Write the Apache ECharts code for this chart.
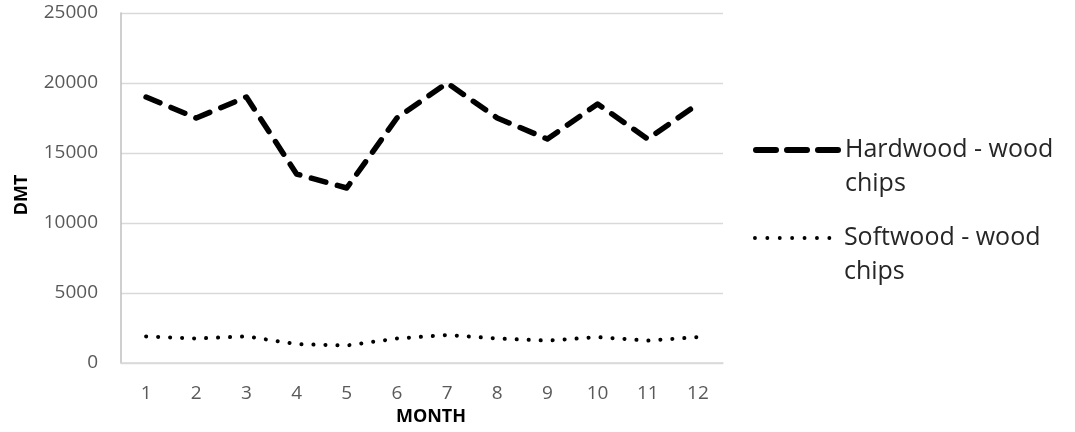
<!DOCTYPE html>
<html><head><meta charset="utf-8">
<script src="https://cdn.jsdelivr.net/npm/echarts@6/dist/echarts.min.js"></script>
<style>html,body{margin:0;padding:0;background:#fff}#c{width:1075px;height:432px}</style>
</head><body><div id="c"></div>
<script>
const months = ['1','2','3','4','5','6','7','8','9','10','11','12'];
const hardwood = [19000, 17500, 19000, 13500, 12500, 17500, 20000, 17500, 16000, 18500, 16000, 18500];
const softwood = [1900, 1750, 1900, 1350, 1250, 1750, 2000, 1750, 1600, 1850, 1600, 1850];
const seriesNames = ['Hardwood - wood chips', 'Softwood - wood chips'];
const legendLabels = [' \nHardwood - wood\nchips', ' \nSoftwood - wood\nchips'];

const FONT = '"Open Sans", Lato, sans-serif';
const legendText = { fontSize: 25, color: '#262626', lineHeight: 34, fontFamily: FONT };
const legendCommon = {
  orient: 'vertical', itemWidth: 84, itemHeight: 14, itemGap: 0, padding: 0,
  formatter: n => legendLabels[seriesNames.indexOf(n)],
  itemStyle: { color: 'rgba(0,0,0,0)', borderWidth: 0, opacity: 0 },
  textStyle: legendText
};
const chart = echarts.init(document.getElementById('c'));
chart.setOption({
  animation: false,
  textStyle: { fontFamily: FONT },
  grid: { left: 121, right: 352, top: 13, bottom: 69, containLabel: false },
  legend: [
    Object.assign({}, legendCommon, { left: 753, top: 99,
      data: [{ name: seriesNames[0], lineStyle: { color: '#000', width: 6, type: [20, 11], cap: 'round' } }] }),
    Object.assign({}, legendCommon, { left: 753, top: 187,
      data: [{ name: seriesNames[1], lineStyle: { color: '#000', width: 3.8, type: [0.1, 12.3], cap: 'round' } }] })
  ],
  xAxis: {
    type: 'category', data: months, boundaryGap: true,
    name: 'MONTH', nameLocation: 'middle', nameGap: 45,
    nameTextStyle: { fontWeight: 'bold', fontSize: 18, color: '#000', fontFamily: FONT, padding: [0, 0, 0, 18] },
    axisLine: { lineStyle: { color: '#d9d9d9', width: 1.5 } },
    axisTick: { show: false },
    axisLabel: { color: '#595959', fontSize: 19, margin: 21, fontFamily: FONT }
  },
  yAxis: {
    type: 'value', min: 0, max: 25000, interval: 5000,
    name: 'DMT', nameLocation: 'middle', nameGap: 90, nameRotate: 90,
    nameTextStyle: { fontWeight: 'bold', fontSize: 18, color: '#000', fontFamily: FONT, padding: [0, 14, 0, 0] },
    axisLine: { show: true, lineStyle: { color: '#bfbfbf', width: 1.5 } },
    axisTick: { show: false },
    splitLine: { lineStyle: { color: '#d9d9d9', width: 1.3 } },
    axisLabel: { color: '#595959', fontSize: 19, margin: 23, fontFamily: FONT, formatter: v => String(v) }
  },
  series: [
    { name: seriesNames[0], type: 'line', data: hardwood, symbol: 'none',
      lineStyle: { color: '#000', width: 5.5, type: [15, 12], cap: 'round', join: 'round' },
      itemStyle: { color: '#000' } },
    { name: seriesNames[1], type: 'line', data: softwood, symbol: 'none',
      lineStyle: { color: '#000', width: 4, type: [0.1, 11.9], cap: 'round' },
      itemStyle: { color: '#000' } }
  ]
});
</script></body></html>
